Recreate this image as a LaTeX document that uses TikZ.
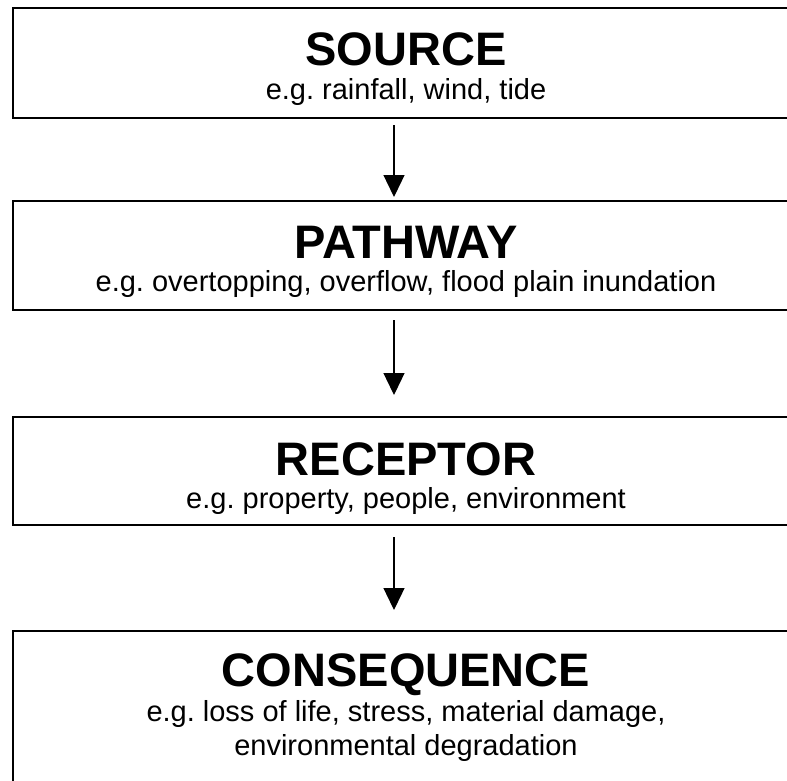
\documentclass[tikz,border=0pt]{standalone}
\usepackage{fontspec}
\setmainfont{Liberation Sans}
\usetikzlibrary{arrows.meta}
\frenchspacing
\begin{document}
\begin{tikzpicture}[x=1pt,y=1pt,
  box/.style={draw=black, line width=2pt, fill=white, rectangle, minimum width=787pt, inner sep=0pt, anchor=north},
  ttl/.style={font=\fontsize{47}{50}\selectfont\bfseries, anchor=base, inner sep=0pt},
  subt/.style={font=\fontsize{29}{34}\selectfont, anchor=base, inner sep=0pt},
  arr/.style={draw=black, line width=1.3pt, -{Triangle[width=21pt,length=22pt]}}]
\useasboundingbox (0,0) rectangle (787,-780);
\clip (0,0) rectangle (787,-780);
% boxes
\node[box, minimum height=109.5pt] (src) at (406,-7) {};
\node[box, minimum height=109pt] (pth) at (406,-199.5) {};
\node[box, minimum height=108pt] (rec) at (406,-416) {};
\node[box, minimum height=190pt] (con) at (406,-629.5) {};
% texts
\node[ttl] (srcT) at (406,-65.7) {SOURCE};
\node[subt] (srcS) at (406,-99) {e.g. rainfall, wind, tide};
\node[ttl] (pthT) at (406,-258.5) {PATHWAY};
\node[subt] (pthS) at (406,-291.5) {e.g. overtopping, overflow, flood plain inundation};
\node[ttl] (recT) at (406,-475) {RECEPTOR};
\node[subt] (recS) at (406,-508) {e.g. property, people, environment};
\node[ttl] (conT) at (406,-686) {CONSEQUENCE};
\node[subt] (conS) at (406,-721) {e.g. loss of life, stress, material damage,};
\node[subt] (conS2) at (406,-755) {environmental degradation};
% arrows
\draw[arr, shorten <=6.5pt, shorten >=2.5pt] ([xshift=-12pt]src.south) -- ([xshift=-12pt]pth.north);
\draw[arr, shorten <=9.5pt, shorten >=21pt] ([xshift=-12pt]pth.south) -- ([xshift=-12pt]rec.north);
\draw[arr, shorten <=11pt, shorten >=19.5pt] ([xshift=-12pt]rec.south) -- ([xshift=-12pt]con.north);
\end{tikzpicture}
\end{document}
